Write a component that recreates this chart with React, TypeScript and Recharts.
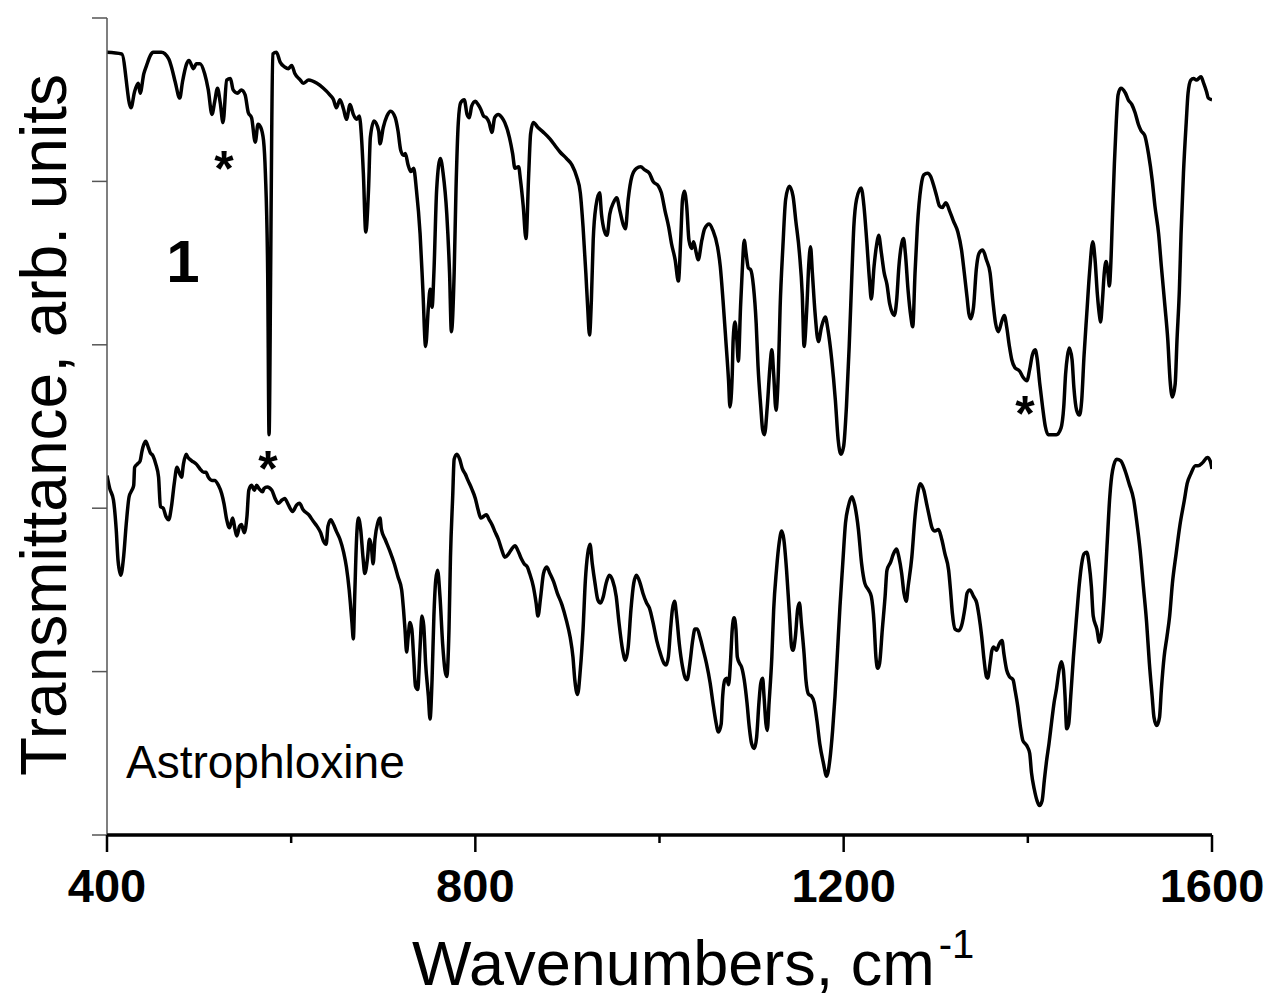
import React from 'react';
import { LineChart, Line, XAxis, YAxis, ReferenceLine } from 'recharts';

// Wavenumber (cm^-1), transmittance (arb. units, offset) — sample "1" (upper trace)
const sample1Spectrum: [number, number][] = [
  [400,4.79],[416,4.78],[426,4.45],[430,4.55],[434,4.60],[436,4.54],[440,4.66],[443,4.71],[447,4.77],[450,4.79],[459,4.79],[467,4.75],[470,4.70],[474,4.61],[479,4.51],[482,4.61],[486.5,4.72],[489,4.74],[494,4.69],[497,4.72],[501,4.72],[506,4.66],[510,4.56],[514,4.41],[517,4.49],[520,4.57],[523,4.48],[526,4.36],[530,4.62],[534,4.63],[537,4.56],[541.5,4.54],[546,4.56],[550,4.53],[553.5,4.42],[557,4.39],[561,4.24],[564,4.35],[567,4.33],[570,4.25],[572,4.05],[574.5,3.44],[576,2.45],[577.7,3.44],[578.8,4.25],[580,4.78],[584,4.79],[588,4.73],[593,4.70],[597,4.69],[600.6,4.71],[604,4.66],[610,4.62],[613,4.60],[619,4.62],[628,4.60],[635,4.57],[642,4.53],[646,4.50],[649,4.45],[653,4.50],[657,4.44],[660,4.38],[664,4.47],[667.5,4.41],[671,4.38],[674,4.40],[676.6,4.25],[678.4,4.05],[681,3.69],[684,3.95],[686,4.27],[690,4.37],[695,4.31],[696.5,4.23],
  [700,4.33],[704,4.40],[708,4.43],[713,4.39],[716,4.31],[719,4.19],[722,4.16],[724,4.17],[727,4.10],[730,4.06],[733,4.08],[736,3.95],[740,3.68],[743,3.34],[746,2.99],[749,3.23],[751,3.34],[753,3.23],[755,3.44],[758,3.95],[762,4.14],[765,4.05],[769,3.80],[772,3.44],[774,3.08],[777,3.44],[779,3.95],[781.5,4.36],[784,4.48],[788,4.50],[791,4.41],[793.5,4.39],[796,4.46],[800,4.49],[803,4.47],[806,4.44],[809,4.40],[812,4.39],[815,4.36],[818,4.30],[821,4.39],[825,4.41],[829,4.39],[832,4.36],[837,4.27],[840.5,4.17],[843,4.08],[847,4.09],[849,4.01],[852,3.85],[855,3.65],[858,4.05],[860,4.29],[863,4.36],[868,4.33],[874,4.30],[881,4.26],[886.5,4.22],[892,4.18],[899,4.14],[905,4.10],[910,4.03],[914,3.93],[917,3.72],[920,3.44],[922,3.23],[924,3.06],[926,3.27],[928,3.64],[931,3.85],[935,3.93],[937,3.80],[940,3.70],[943,3.67],[946,3.80],[950,3.87],[953.5,3.90],[957,3.82],[961,3.73],[963,3.71],[966,3.89],[970,4.03],[975,4.08],[979.5,4.09],[984,4.07],
  [989,4.05],[993,4.00],[999,3.97],[1002,3.93],[1006,3.82],[1010,3.72],[1013,3.62],[1017,3.52],[1020.5,3.39],[1023,3.64],[1025,3.89],[1027,3.94],[1029.5,3.85],[1032,3.64],[1035,3.59],[1037,3.63],[1040,3.56],[1042,3.52],[1046,3.64],[1049,3.71],[1054,3.74],[1058,3.70],[1063,3.60],[1066,3.48],[1069,3.27],[1072,3.03],[1075,2.78],[1076.5,2.62],[1079,2.82],[1080,3.03],[1082,3.14],[1084,3.03],[1085.6,2.90],[1088,3.23],[1090,3.47],[1092,3.64],[1094,3.56],[1096.5,3.47],[1099,3.46],[1102,3.36],[1105,3.13],[1107,2.87],[1110,2.62],[1112,2.48],[1114,2.45],[1117,2.62],[1120,2.87],[1122,2.97],[1124,2.82],[1126.5,2.60],[1129,2.82],[1131,3.23],[1134,3.60],[1137,3.89],[1141,3.97],[1145,3.91],[1148,3.76],[1152,3.56],[1155,3.31],[1157,2.99],[1160,3.23],[1162,3.48],[1164,3.60],[1166,3.44],[1169,3.19],[1172.5,3.02],[1176,3.11],[1180,3.17],[1183,3.09],[1187,2.91],[1191,2.66],[1194,2.42],[1197,2.33],[1200,2.38],[1203,2.62],[1206,2.99],[1209,3.44],[1211,3.72],[1214,3.89],[1219,3.96],[1222,3.85],[1225,3.64],[1228,3.40],[1230,3.28],[1233,3.48],[1236,3.62],[1238,3.67],[1241,3.56],[1244,3.44],[1247,3.37],[1250,3.25],[1255,3.18],[1257.5,3.27],[1260,3.48],[1263,3.62],[1265,3.65],[1267,3.56],[1270,3.33],[1273,3.17],[1275,3.11],
  [1277.5,3.44],[1280,3.72],[1284,3.97],[1287,4.04],[1291,4.05],[1294.5,4.03],[1298,3.97],[1301,3.91],[1304,3.85],[1307,3.84],[1311,3.87],[1315,3.82],[1319,3.76],[1324,3.69],[1328,3.58],[1331,3.44],[1334,3.29],[1336,3.19],[1338,3.16],[1341,3.23],[1344,3.46],[1347,3.56],[1351,3.58],[1355,3.52],[1359,3.44],[1362,3.27],[1365,3.13],[1368,3.08],[1372,3.15],[1374.5,3.18],[1377,3.11],[1380,2.99],[1382.5,2.91],[1386,2.86],[1391,2.84],[1395,2.80],[1399,2.78],[1402,2.85],[1405,2.94],[1408,2.97],[1410,2.92],[1413,2.76],[1416,2.62],[1419,2.50],[1422,2.45],[1426,2.45],[1431,2.45],[1436,2.49],[1439,2.62],[1441,2.82],[1443,2.93],[1445,2.98],[1448,2.91],[1450,2.74],[1453,2.60],[1456,2.57],[1458.5,2.66],[1461,2.93],[1464,3.19],[1467,3.44],[1470.5,3.63],[1473,3.52],[1475.5,3.31],[1478,3.17],[1479,3.14],[1481,3.27],[1483,3.44],[1485,3.51],[1487,3.44],[1488.6,3.36],[1490,3.48],[1492,3.80],[1494,4.11],[1496,4.36],[1498,4.53],[1501,4.57],[1506,4.54],[1509,4.50],[1513,4.47],[1516.5,4.42],[1520,4.35],[1523,4.31],[1527,4.28],[1531,4.17],[1535,4.01],[1538,3.85],[1542,3.68],[1545,3.48],[1549,3.23],[1552,3.03],[1554.5,2.78],[1557,2.68],[1560,2.76],[1562,3.03],[1564.6,3.34],[1566.4,3.68],[1569,4.05],[1572,4.36],[1574,4.54],[1577,4.62],[1580,4.63],[1583,4.62],[1588,4.64],[1591,4.60],[1594,4.55],[1596,4.51],[1600,4.50],
];

// Astrophloxine (lower trace)
const astrophloxineSpectrum: [number, number][] = [
  [400,2.20],[403,2.12],[407,2.05],[410,1.87],[412,1.68],[415,1.59],[418,1.70],[421,1.91],[424,2.07],[427,2.11],[429,2.14],[430,2.25],[433,2.27],[436,2.29],[438,2.35],[440,2.39],[442,2.41],[445,2.37],[447,2.34],[450,2.32],[453,2.27],[456,2.19],[458,2.01],[461,2.00],[464,1.95],[467,1.93],[470,2.01],[473,2.15],[476,2.25],[479,2.21],[481,2.19],[483,2.27],[486,2.33],[488,2.31],[492,2.29],[497,2.27],[501,2.24],[505,2.22],[507.5,2.22],[510,2.19],[514,2.17],[517,2.17],[521,2.14],[524.5,2.09],[527,2.03],[530,1.93],[533,1.88],[536.5,1.94],[539,1.87],[541,1.83],[544,1.89],[546,1.90],[549,1.85],[552,1.95],[554,2.11],[557,2.14],[560,2.11],[562.5,2.14],[565,2.12],[569,2.10],[570.5,2.12],[574,2.13],[579,2.11],[582.5,2.06],[586,2.03],[590,2.05],[593,2.06],[597,2.02],[601.6,1.98],[606,2.02],[609,2.03],[613,1.99],[619,1.96],[624,1.92],[628,1.89],[632,1.85],[635,1.80],[638,1.78],[640,1.89],[643,1.93],[646,1.90],[649,1.86],[653,1.81],[657,1.73],[660,1.64],[663,1.50],[666,1.30],[667.5,1.20],[669,1.46],[671,1.81],[673,1.94],[675.5,1.87],[678,1.70],[680,1.60],[683,1.70],[685,1.81],[687,1.77],[689,1.66],[691,1.81],[694,1.91],[696.5,1.94],
  [698,1.87],[702,1.81],[707,1.74],[712,1.66],[716,1.58],[720,1.50],[722,1.38],[723.6,1.26],[725.4,1.12],[727,1.21],[729,1.30],[731,1.26],[733,1.09],[735,0.91],[737.4,0.89],[740,1.15],[742,1.34],[744,1.28],[746,1.05],[749,0.85],[750.8,0.71],[753,0.95],[755,1.34],[757,1.56],[759,1.62],[761.6,1.46],[764.5,1.17],[767,1.01],[769,0.97],[771.4,1.26],[773,1.70],[775.4,2.07],[777,2.30],[780,2.33],[783,2.30],[786,2.24],[789,2.21],[792,2.17],[796,2.12],[800,2.06],[803,1.99],[806,1.94],[809,1.95],[812,1.96],[815,1.93],[818,1.90],[821,1.86],[825,1.81],[829,1.74],[832,1.70],[836,1.72],[839.5,1.75],[843,1.77],[847,1.73],[850,1.69],[853,1.66],[856.5,1.64],[859,1.60],[863,1.52],[866,1.42],[868,1.34],[871,1.46],[874,1.60],[877.5,1.64],[881,1.60],[885,1.55],[889,1.48],[894,1.41],[899,1.31],[903,1.21],[906,1.09],[908,0.95],[911,0.86],[914,1.01],[917,1.26],[919.5,1.56],[922,1.72],[924.5,1.78],[927,1.66],[930,1.54],[933,1.44],[936,1.42],[939,1.46],[942,1.54],[945.5,1.59],[949,1.56],[953,1.46],[956,1.30],[960,1.13],[963,1.07],[966,1.15],[969,1.38],[972,1.54],[975,1.59],[979,1.54],[982,1.48],[986,1.42],
  [989,1.39],[993,1.30],[997,1.19],[1001,1.11],[1005,1.05],[1007,1.04],[1009.6,1.09],[1012,1.26],[1014,1.38],[1016.4,1.43],[1018.6,1.34],[1021.5,1.17],[1025,1.03],[1028,0.96],[1030,0.95],[1033,1.05],[1036,1.19],[1038.5,1.26],[1041,1.26],[1044,1.21],[1047.6,1.13],[1051,1.05],[1055,0.93],[1058,0.81],[1061,0.70],[1064,0.63],[1067,0.68],[1068.6,0.85],[1071,0.95],[1073,0.96],[1075,0.92],[1077,1.05],[1079,1.26],[1081,1.33],[1083,1.26],[1084.5,1.09],[1087,1.05],[1089,1.03],[1092,0.95],[1095,0.81],[1097.5,0.66],[1100,0.56],[1103,0.53],[1105.5,0.60],[1108,0.81],[1110,0.93],[1112,0.96],[1113.5,0.85],[1115.6,0.68],[1117,0.64],[1119,0.81],[1122,1.09],[1124,1.38],[1127,1.62],[1130,1.79],[1132.7,1.86],[1135,1.81],[1138,1.62],[1141,1.36],[1143.5,1.15],[1145,1.13],[1147.5,1.21],[1150,1.38],[1152,1.42],[1154,1.30],[1157,1.11],[1159,0.95],[1162,0.86],[1165,0.85],[1168,0.81],[1171,0.70],[1174,0.56],[1178,0.44],[1181.5,0.36],[1185,0.46],[1188,0.64],[1190.6,0.85],[1193,1.09],[1196,1.40],[1199,1.66],[1202,1.91],[1205,2.01],[1209,2.07],[1212,2.02],[1216,1.87],[1219.5,1.66],[1223,1.54],[1227,1.50],[1230,1.46],[1233,1.30],[1235,1.09],[1237,1.02],[1239,1.05],[1242,1.26],[1245,1.46],[1247,1.62],[1251,1.67],[1254,1.72],[1257.5,1.75],[1260,1.70],[1263,1.60],[1265.5,1.48],[1268,1.43],[1270,1.52],[1274,1.70],[1277.5,1.95],[1281,2.11],[1283,2.15],
  [1287,2.11],[1290,2.03],[1293,1.95],[1296,1.88],[1299,1.86],[1303,1.87],[1306.5,1.81],[1310,1.72],[1314,1.62],[1316,1.50],[1318,1.36],[1321,1.26],[1325,1.25],[1328,1.28],[1332,1.40],[1334,1.48],[1337,1.50],[1341,1.46],[1344.5,1.42],[1347,1.34],[1350,1.21],[1352.5,1.07],[1355,0.97],[1356.4,0.96],[1359,1.05],[1361,1.13],[1363,1.15],[1366,1.13],[1369,1.17],[1372,1.19],[1374,1.11],[1377,1.01],[1380,0.97],[1384,0.95],[1386,0.89],[1389,0.79],[1392,0.66],[1394.5,0.58],[1397,0.56],[1399.5,0.54],[1402,0.50],[1404,0.38],[1407,0.28],[1410,0.21],[1412.6,0.18],[1415.5,0.21],[1418,0.34],[1420.5,0.46],[1423,0.56],[1426,0.70],[1428.5,0.81],[1431,0.89],[1434,1.01],[1436.4,1.06],[1438.6,1.01],[1440.4,0.85],[1442.2,0.65],[1444.4,0.68],[1446.6,0.85],[1449.5,1.09],[1453,1.34],[1456,1.54],[1458.5,1.66],[1461,1.72],[1464,1.73],[1466.5,1.66],[1469,1.52],[1471,1.34],[1475,1.26],[1477.7,1.18],[1480,1.24],[1483,1.46],[1486,1.77],[1489,2.07],[1492,2.23],[1496.5,2.30],[1501,2.29],[1505.6,2.23],[1510,2.15],[1515,2.05],[1518,1.93],[1522,1.74],[1525.5,1.52],[1529,1.30],[1532,1.05],[1535,0.85],[1537,0.72],[1540,0.67],[1543,0.72],[1545,0.89],[1548,1.09],[1551,1.21],[1554,1.34],[1557,1.54],[1561,1.72],[1565,1.89],[1570,2.05],[1573,2.15],[1577,2.21],[1582,2.26],[1585,2.26],[1590,2.28],[1595,2.31],[1598,2.29],[1600,2.24],
];

const xTicks = [400, 600, 800, 1000, 1200, 1400, 1600];
const xTickLabels = [400, 800, 1200, 1600];
const yTicks = [0, 1, 2, 3, 4, 5];
const xAxisTitle = 'Wavenumbers, cm';
const xAxisTitleSup = '-1';
const yAxisTitle = 'Transmittance, arb. units';
const upperLabel = '1';
const lowerLabel = 'Astrophloxine';

const FONT = '"Liberation Sans", Arial, Helvetica, sans-serif';

const toPoints = (arr: [number, number][]) => arr.map(([x, y]) => ({ x, y }));

const XTick = (props: any) => {
  const { x, y, payload } = props;
  const v = payload.value;
  const major = xTickLabels.includes(v);
  return (
    <g>
      <line x1={x} x2={x} y1={y} y2={y + (major ? 17 : 8)} stroke="#000" strokeWidth={2.5} />
      {major && (
        <text x={x} y={y + 67} textAnchor="middle" fontFamily={FONT} fontWeight="bold" fontSize={47} fill="#000">
          {v}
        </text>
      )}
    </g>
  );
};

const YTick = (props: any) => {
  const { x, y } = props;
  return <line x1={x - 15} x2={x} y1={y} y2={y} stroke="#555" strokeWidth={1.5} />;
};

export default function App() {
  const upper = toPoints(sample1Spectrum);
  const lower = toPoints(astrophloxineSpectrum);
  return (
    <div style={{ position: 'absolute', left: 0, top: 0, width: 1272, height: 1001, background: '#fff' }}>
      <LineChart width={1272} height={1001} margin={{ top: 18, right: 60, bottom: 136, left: 47 }}>
        <YAxis
          type="number"
          domain={[0, 5]}
          ticks={yTicks}
          width={60}
          tickSize={0}
          tickMargin={0}
          tickLine={false}
          tick={<YTick />}
          stroke="#555"
          axisLine={{ stroke: '#555', strokeWidth: 1.5 }}
        />
        <XAxis
          dataKey="x"
          type="number"
          domain={[400, 1600]}
          ticks={xTicks}
          allowDataOverflow
          height={30}
          tickSize={0}
          tickMargin={0}
          tickLine={false}
          tick={<XTick />}
          stroke="#000"
          axisLine={{ stroke: '#000', strokeWidth: 3 }}
        />
        <ReferenceLine y={0} stroke="#000" strokeWidth={3} ifOverflow="visible" />
        <Line data={upper} dataKey="y" type="monotone" stroke="#000" strokeWidth={3.5} dot={false} isAnimationActive={false} />
        <Line data={lower} dataKey="y" type="monotone" stroke="#000" strokeWidth={3.5} dot={false} isAnimationActive={false} />
      </LineChart>
      <svg width={1272} height={1001} style={{ position: 'absolute', left: 0, top: 0, pointerEvents: 'none' }}>
        <text x={66} y={425} transform="rotate(-90 66 425)" textAnchor="middle" fontFamily={FONT} fontSize={64} fill="#000">
          {yAxisTitle}
        </text>
        <text x={412} y={985} fontFamily={FONT} fontSize={63} fill="#000">
          {xAxisTitle}
          <tspan dx={4} dy={-27} fontSize={40}>{xAxisTitleSup}</tspan>
        </text>
        <text x={183} y={282} textAnchor="middle" fontFamily={FONT} fontWeight="bold" fontSize={60} fill="#000">
          {upperLabel}
        </text>
        <text x={126} y={778} fontFamily={FONT} fontSize={46} fill="#000">
          {lowerLabel}
        </text>
        <text x={224} y={186} textAnchor="middle" fontFamily={FONT} fontWeight="bold" fontSize={50} fill="#000">*</text>
        <text x={268} y={486} textAnchor="middle" fontFamily={FONT} fontWeight="bold" fontSize={50} fill="#000">*</text>
        <text x={1025} y={431} textAnchor="middle" fontFamily={FONT} fontWeight="bold" fontSize={50} fill="#000">*</text>
      </svg>
    </div>
  );
}
